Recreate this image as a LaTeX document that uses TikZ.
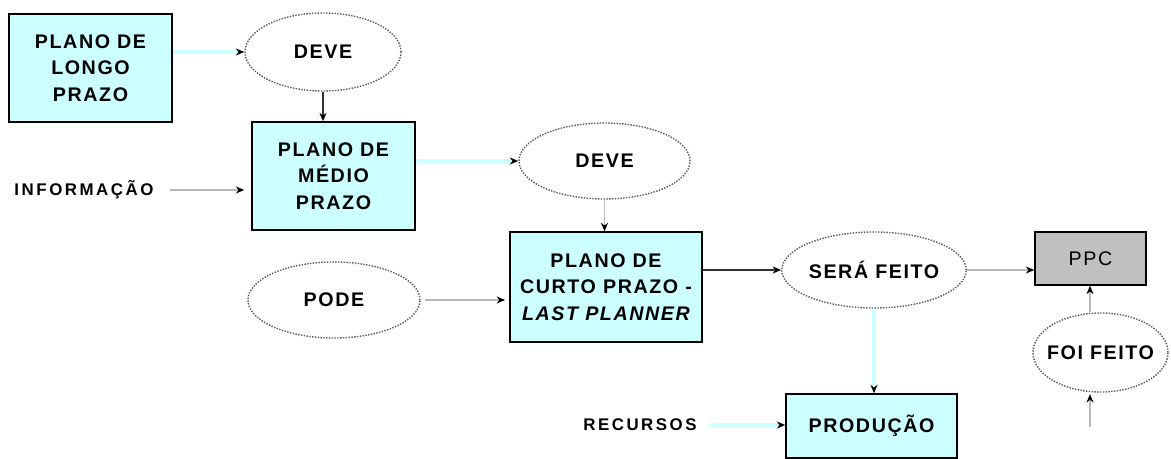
\documentclass[tikz,border=0pt]{standalone}
\usepackage{fontspec}
\setmainfont{Liberation Sans}[LetterSpace=8]
\usetikzlibrary{shapes.geometric,arrows.meta}
\definecolor{boxcyan}{HTML}{CCFFFF}
\definecolor{ppcgray}{HTML}{C0C0C0}
\definecolor{linegray}{HTML}{B8B8B8}
\begin{document}
\begin{tikzpicture}[x=0.025cm,y=-0.025cm,
        every node/.style={font=\fontsize{14}{19}\selectfont\bfseries,align=center},
        plan/.style={rectangle,draw=black,line width=1pt,fill=boxcyan,inner sep=0pt},
        flow/.style={ellipse,draw=black!65,densely dotted,line width=1pt,inner sep=0pt},
        inlabel/.style={font=\fontsize{12}{14}\selectfont\bfseries\addfontfeature{LetterSpace=15}},
        tip/.style={-{Stealth[length=6pt,width=5pt,color=black]}},
        cyanline/.style={tip,draw=boxcyan,line width=2.2pt},
        grayline/.style={tip,draw=linegray,line width=0.8pt},
        blackline/.style={tip,draw=black!80,line width=0.8pt}]
    \useasboundingbox (0,0) rectangle (1171,459);
    % Boxes
    \node[plan,minimum width=4.075cm,minimum height=2.7cm] (longo) at (90.5,68) {PLANO DE\\LONGO\\PRAZO};
    \node[plan,minimum width=4.075cm,minimum height=2.7cm] (medio) at (333.5,176) {PLANO DE\\MÉDIO\\PRAZO};
    \node[plan,minimum width=4.8cm,minimum height=2.75cm] (curto) at (606,287) {PLANO DE\\CURTO PRAZO -\\\itshape LAST PLANNER};
    \node[plan,minimum width=4.275cm,minimum height=1.6cm] (prod) at (871.5,426) {PRODUÇÃO};
    \node[plan,fill=ppcgray,font=\fontsize{14}{19}\selectfont,minimum width=2.775cm,minimum height=1.325cm] (ppc) at (1090.5,258.5) {PPC};
    % Ellipses
    \node[flow,minimum width=3.9cm,minimum height=1.95cm] (deve1) at (323,52) {DEVE};
    \node[flow,minimum width=4.275cm,minimum height=1.9cm] (deve2) at (604.5,161) {DEVE};
    \node[flow,minimum width=4.3cm,minimum height=1.9cm] (pode) at (334,300) {PODE};
    \node[flow,minimum width=4.45cm,minimum height=1.9cm] (sera) at (874,270) {SERÁ FEITO};
    \node[flow,inner xsep=-7pt,minimum width=3.375cm,minimum height=1.975cm] (foi) at (1100.5,352.5) {FOI FEITO};
    % Inputs
    \node[inlabel] (info) at (84,190) {INFORMAÇÃO};
    \node[inlabel] (rec) at (640,425) {RECURSOS};
    \coordinate (foiin) at (1090,427);
    % Connectors
    \draw[cyanline] (longo.east |- deve1.west) -- (deve1.west);
    \draw[blackline] (deve1.south) -- (deve1.south |- medio.north);
    \draw[grayline,shorten <=8pt,shorten >=5pt] (info.east) -- (info.east -| medio.west);
    \draw[cyanline] (medio.east |- deve2.west) -- (deve2.west);
    \draw[grayline] (deve2.south) -- (deve2.south |- curto.north);
    \draw[grayline,shorten <=3pt,shorten >=3pt] (pode.east) -- (pode.east -| curto.west);
    \draw[blackline] (curto.east |- sera.west) -- (sera.west);
    \draw[grayline] (sera.east) -- (sera.east -| ppc.west);
    \draw[cyanline] (sera.south) -- (sera.south |- prod.north);
    \draw[cyanline,shorten <=5pt] (rec.east) -- (rec.east -| prod.west);
    \draw[grayline] (foi.north -| foiin) -- (foiin |- ppc.south);
    \draw[grayline,shorten >=1pt] (foiin) -- (foiin |- foi.south);
\end{tikzpicture}
\end{document}
